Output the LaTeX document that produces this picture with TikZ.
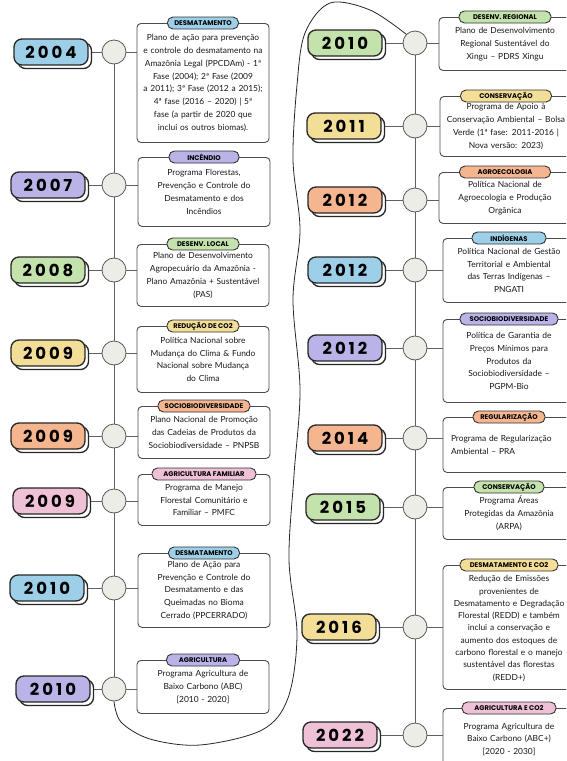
\documentclass[tikz,border=0pt]{standalone}
\usepackage{fontspec}
\setmainfont{Lato}
\newfontfamily\anofont[LetterSpace=18]{Poppins}
\newfontfamily\rotfont{Poppins}
\usetikzlibrary{backgrounds,shadows}

\definecolor{azul}{HTML}{9DD0E8}
\definecolor{roxo}{HTML}{B9B3E8}
\definecolor{verde}{HTML}{C4E2AB}
\definecolor{amarelo}{HTML}{F3DE98}
\definecolor{laranja}{HTML}{F4B58F}
\definecolor{rosa}{HTML}{EEC1D6}
\definecolor{cinza}{HTML}{EDEDE8}

\begin{document}
\begin{tikzpicture}[x=1pt,y=-1pt]
  \tikzstyle{ano}=[draw=black!85, line width=1.3pt, rounded corners=8pt, minimum width=74pt, minimum height=26pt, inner sep=0pt,
    font=\anofont\bfseries\fontsize{16.5}{17}\selectfont,
    copy shadow={shadow xshift=3.5pt, shadow yshift=-3.5pt, fill=white, draw=black!85, line width=1.3pt}];
  \tikzstyle{marco}=[circle, draw=black!65, fill=cinza, line width=0.8pt, minimum size=24pt, inner sep=0pt];
  \tikzstyle{caixa}=[draw=black!70, line width=0.9pt, rounded corners=4pt, fill=white, anchor=north, text width=124pt, inner xsep=4pt,
    align=center, text=black!90, font=\fontsize{8.4}{12.8}\selectfont];
  \tikzstyle{rotulo}=[draw=black!80, line width=0.9pt, rounded corners=5.5pt, minimum height=12pt, inner sep=1pt,
    font=\rotfont\bfseries\fontsize{6.8}{7}\selectfont];
  \tikzstyle{linha}=[draw=black!62, line width=0.9pt];
  \tikzstyle{curva}=[draw=black!85, line width=0.8pt];

  \useasboundingbox (0,0) rectangle (566,761);
  \clip (0,0) rectangle (566,761);

  % coluna da esquerda
  \node[ano, fill=azul] (aL1) at (51,52) {2004};
  \node[ano, fill=roxo] (aL2) at (48,185) {2007};
  \node[ano, fill=verde] (aL3) at (48,270) {2008};
  \node[ano, fill=amarelo] (aL4) at (48,353) {2009};
  \node[ano, fill=laranja] (aL5) at (48,436) {2009};
  \node[ano, fill=rosa] (aL6) at (50,501) {2009};
  \node[ano, fill=azul] (aL7) at (47,588) {2010};
  \node[ano, fill=roxo] (aL8) at (53,689) {2010};

  \foreach \i/\y in {1/52, 2/185, 3/270, 4/353, 5/436, 6/501, 7/588, 8/689} {
    \node[marco] (mL\i) at (114,\y) {};
  }

  \node[caixa, minimum height=119pt] (cL1) at (203,23) {Plano de ação para prevenção\\ e controle do desmatamento na\\ Amazônia Legal (PPCDAm) - 1ª\\ Fase (2004); 2ª Fase (2009\\ a 2011); 3ª Fase (2012 a 2015);\\ 4ª fase (2016 – 2020) | 5ª\\ fase (a partir de 2020 que\\ inclui os outros biomas).};
  \node[caixa, minimum height=69pt] (cL2) at (204,157) {Programa Florestas,\\ Prevenção e Controle do\\ Desmatamento e dos\\ Incêndios};
  \node[caixa, minimum height=62pt] (cL3) at (203,244) {Plano de Desenvolvimento\\ Agropecuário da Amazônia -\\ Plano Amazônia + Sustentável\\ (PAS)};
  \node[caixa, minimum height=66pt] (cL4) at (203,326) {Política Nacional sobre\\ Mudança do Clima \& Fundo\\ Nacional sobre Mudança\\ do Clima};
  \node[caixa, minimum height=52pt] (cL5) at (204,406) {Plano Nacional de Promoção\\ das Cadeias de Produtos da\\ Sociobiodiversidade – PNPSB};
  \node[caixa, minimum height=51pt] (cL6) at (204,474) {Programa de Manejo\\ Florestal Comunitário e\\ Familiar – PMFC};
  \node[caixa, minimum height=74pt] (cL7) at (204,553) {Plano de Ação para\\ Prevenção e Controle do\\ Desmatamento e das\\ Queimadas no Bioma\\ Cerrado (PPCERRADO)};
  \node[caixa, minimum height=53pt] (cL8) at (203,660) {Programa Agricultura de\\ Baixo Carbono (ABC)\\ {[2010 - 2020]}};

  \node[rotulo, fill=azul, minimum width=71pt] (rL1) at (cL1.north) {DESMATAMENTO};
  \node[rotulo, fill=roxo, minimum width=70pt] (rL2) at (cL2.north) {INCÊNDIO};
  \node[rotulo, fill=verde, minimum width=72pt] (rL3) at (cL3.north) {DESENV. LOCAL};
  \node[rotulo, fill=amarelo, minimum width=72pt] (rL4) at (cL4.north) {REDUÇÃO DE CO2};
  \node[rotulo, fill=laranja, minimum width=92pt] (rL5) at (cL5.north) {SOCIOBIODIVERSIDADE};
  \node[rotulo, fill=rosa, minimum width=104pt] (rL6) at (cL6.north) {AGRICULTURA FAMILIAR};
  \node[rotulo, fill=azul, minimum width=71pt] (rL7) at (cL7.north) {DESMATAMENTO};
  \node[rotulo, fill=roxo, minimum width=73pt] (rL8) at (cL8.north) {AGRICULTURA};

  % coluna da direita
  \node[ano, fill=verde] (aR1) at (345,43) {2010};
  \node[ano, fill=amarelo] (aR2) at (344,126) {2011};
  \node[ano, fill=laranja] (aR3) at (345,200) {2012};
  \node[ano, fill=azul] (aR4) at (345,270) {2012};
  \node[ano, fill=roxo] (aR5) at (345,348) {2012};
  \node[ano, fill=laranja] (aR6) at (345,438) {2014};
  \node[ano, fill=verde] (aR7) at (343,507) {2015};
  \node[ano, fill=amarelo] (aR8) at (339,627) {2016};
  \node[ano, fill=rosa] (aR9) at (340,735) {2022};

  \foreach \i/\y in {1/43, 2/126, 3/200, 4/270, 5/348, 6/438, 7/507, 8/627, 9/735} {
    \node[marco] (mR\i) at (415,\y) {};
  }

  \node[caixa, minimum height=53pt] (cR1) at (505,17) {Plano de Desenvolvimento\\ Regional Sustentável do\\ Xingu – PDRS Xingu};
  \node[caixa, minimum height=60pt] (cR2) at (506,96) {Programa de Apoio à\\ Conservação Ambiental – Bolsa\\ Verde (1ª fase: 2011-2016 |\\ Nova versão: 2023)};
  \node[caixa, minimum height=51pt] (cR3) at (505,172) {Política Nacional de\\ Agroecologia e Produção\\ Orgânica};
  \node[caixa, minimum height=64pt] (cR4) at (509,238) {Política Nacional de Gestão\\ Territorial e Ambiental\\ das Terras Indígenas –\\ PNGATI};
  \node[caixa, minimum height=83pt] (cR5) at (509,319) {Política de Garantia de\\ Preços Mínimos para\\ Produtos da\\ Sociobiodiversidade –\\ PGPM-Bio};
  \node[caixa, minimum height=55pt, align=left, text width=116pt, inner xsep=8pt] (cR6) at (509,417) {Programa de Regularização\\ Ambiental – PRA};
  \node[caixa, minimum height=52pt] (cR7) at (509,487) {Programa Áreas\\ Protegidas da Amazônia\\ (ARPA)};
  \node[caixa, minimum height=124pt, font=\fontsize{8.4}{12.3}\selectfont, inner ysep=1pt] (cR8) at (509,565) {\\[-4pt] Redução de Emissões\\ provenientes de\\ Desmatamento e Degradação\\ Florestal (REDD) e também\\ inclui a conservação e\\ aumento dos estoques de\\ carbono florestal e o manejo\\ sustentável das florestas\\ (REDD+)};
  \node[caixa, minimum height=62pt] (cR9) at (509,708) {Programa Agricultura de\\ Baixo Carbono (ABC+)\\ {[2020 - 2030]}};

  \node[rotulo, fill=verde, minimum width=92pt] (rR1) at (cR1.north) {DESENV. REGIONAL};
  \node[rotulo, fill=amarelo, minimum width=91pt] (rR2) at (cR2.north) {CONSERVAÇÃO};
  \node[rotulo, fill=laranja, minimum width=91pt] (rR3) at (cR3.north) {AGROECOLOGIA};
  \node[rotulo, fill=azul, minimum width=74pt] (rR4) at (cR4.north) {INDÍGENAS};
  \node[rotulo, fill=roxo, minimum width=98pt] (rR5) at (cR5.north) {SOCIOBIODIVERSIDADE};
  \node[rotulo, fill=laranja, minimum width=72pt] (rR6) at (cR6.north) {REGULARIZAÇÃO};
  \node[rotulo, fill=verde, minimum width=70pt] (rR7) at (cR7.north) {CONSERVAÇÃO};
  \node[rotulo, fill=amarelo, minimum width=98pt] (rR8) at (cR8.north) {DESMATAMENTO E CO2};
  \node[rotulo, fill=rosa, minimum width=94pt] (rR9) at (cR9.north) {AGRICULTURA E CO2};

  \begin{scope}[on background layer]
    \draw[linha] (mL1) -- (mL8);
    \draw[linha] (mR1) -- (mR9);
    \foreach \i in {1,...,8} {
      \draw[linha] (aL\i) -- (mL\i);
      \draw[linha] (mL\i) -- (mL\i -| cL\i.west);
    }
    \foreach \i in {1,...,9} {
      \draw[linha] (aR\i) -- (mR\i);
      \draw[linha] (mR\i) -- (mR\i -| cR\i.west);
    }
  \end{scope}

  \draw[curva] plot[smooth, tension=0.55] coordinates {(mL8.south) (121,722) (150,739) (200,745) (262,730) (288,698) (297,635) (289,560) (294,475) (300,390) (293,300) (300,230) (293,160) (297,85) (305,33) (330,3) (370,10) (mR1.north west)};
\end{tikzpicture}
\end{document}
